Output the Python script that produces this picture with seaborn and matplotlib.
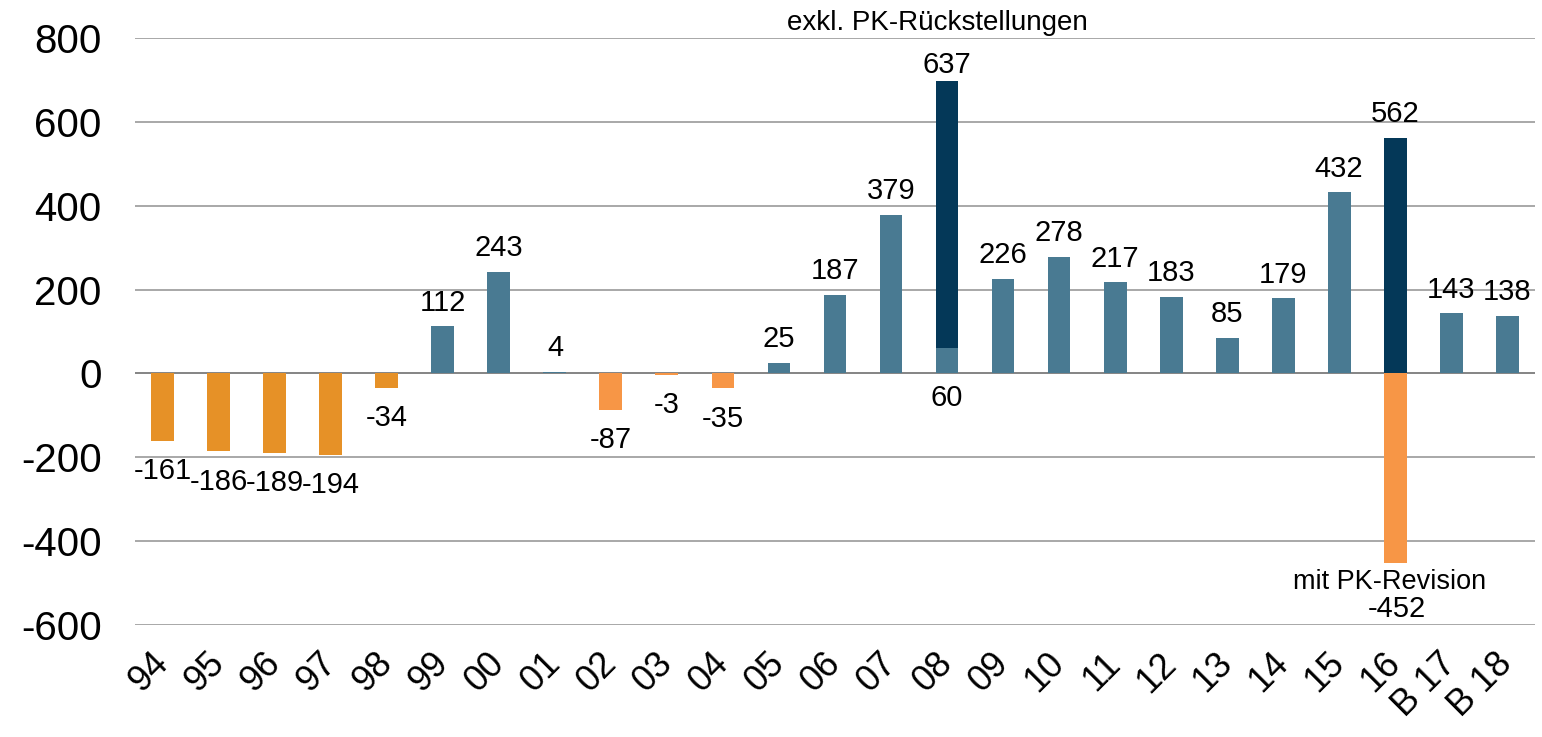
import matplotlib
matplotlib.use("Agg")
import matplotlib.pyplot as plt
import pandas as pd
import seaborn as sns

# Daten
#------------------------------------------
jahre = ["94", "95", "96", "97", "98", "99", "00", "01", "02", "03", "04", "05",
         "06", "07", "08", "09", "10", "11", "12", "13", "14", "15", "16",
         "B 17", "B 18"]
saldo = [-161, -186, -189, -194, -34, 112, 243, 4, -87, -3, -35, 25,
         187, 379, 60, 226, 278, 217, 183, 85, 179, 432, 562, 143, 138]
gruppe = ["alt"] * 5 + ["plus"] * 3 + ["neu"] * 3 + ["plus"] * 11 + ["pk"] + ["plus"] * 2
pk_rueckstellung_08 = 637   # zusaetzlich auf 2008
pk_revision_16 = -452       # 2016 mit PK-Revision

farben = {"alt": "#E69127", "neu": "#F79646", "plus": "#497A92", "pk": "#043858"}

sns.set_style("white")
plt.rcParams['font.family'] = ['Liberation Sans', 'DejaVu Sans']
plt.rcParams['axes.unicode_minus'] = False
plt.rcParams['text.color'] = 'black'
plt.rcParams['xtick.color'] = 'black'
plt.rcParams['ytick.color'] = 'black'

df = pd.DataFrame({"Jahr": jahre, "Saldo": saldo, "Gruppe": gruppe})

fig = plt.figure(figsize=(15.42, 7.37), dpi=100)
ax = fig.add_axes([0.0875, 0.152, 0.908, 0.7964])

sns.barplot(data=df, x="Jahr", y="Saldo", hue="Gruppe", palette=farben,
            dodge=False, width=0.41, saturation=1, legend=False, ax=ax,
            linewidth=0, zorder=3)

i08 = jahre.index("08")
i16 = jahre.index("16")
ax.bar(i08, pk_rueckstellung_08, bottom=saldo[i08], width=0.41,
       color=farben["pk"], linewidth=0, zorder=3)
ax.bar(i16, pk_revision_16, width=0.41, color=farben["neu"], linewidth=0, zorder=3)

# Beschriftungen
#------------------------------------------
fs = 21
for i, v in enumerate(saldo):
    if i == i08:
        ax.annotate(str(pk_rueckstellung_08), (i, v + pk_rueckstellung_08),
                    xytext=(0, 12), textcoords="offset points",
                    ha="center", va="center", fontsize=fs)
        ax.annotate(str(v), (i, 0), xytext=(0, -18), textcoords="offset points",
                    ha="center", va="center", fontsize=fs)
    elif v >= 0:
        ax.annotate(str(v), (i, v), xytext=(0, 17), textcoords="offset points",
                    ha="center", va="center", fontsize=fs)
    else:
        ax.annotate(str(v), (i, v), xytext=(0, -22), textcoords="offset points",
                    ha="center", va="center", fontsize=fs)

ax.annotate("mit PK-Revision", (i16, pk_revision_16), xytext=(-4, -14),
            textcoords="offset points", ha="center", va="center", fontsize=19.5)
ax.annotate(str(pk_revision_16), (i16, pk_revision_16), xytext=(1, -33),
            textcoords="offset points", ha="center", va="center", fontsize=fs)
ax.annotate("exkl. PK-Rückstellungen", (i08, 800), xytext=(-7, 11),
            textcoords="offset points", ha="center", va="center", fontsize=20,
            annotation_clip=False)

# Achsen
#------------------------------------------
ax.set_xlim(-0.5, len(jahre) - 0.5)
ax.set_ylim(-600, 800)
ax.set_yticks(range(-600, 801, 200))
ax.yaxis.grid(True, color="#9A9A9A", linewidth=1.2, zorder=0)
ax.axhline(0, color="#808080", linewidth=1.2, zorder=2)
for s in ax.spines.values():
    s.set_visible(False)
ax.set_xlabel("")
ax.set_ylabel("")
ax.tick_params(axis="y", length=0, pad=24, labelsize=29)
ax.tick_params(axis="x", length=0, pad=24, labelsize=26)
plt.setp(ax.get_xticklabels(), rotation=45, ha="right", va="center",
         rotation_mode="anchor")

fig.savefig("out.png", dpi=100)
